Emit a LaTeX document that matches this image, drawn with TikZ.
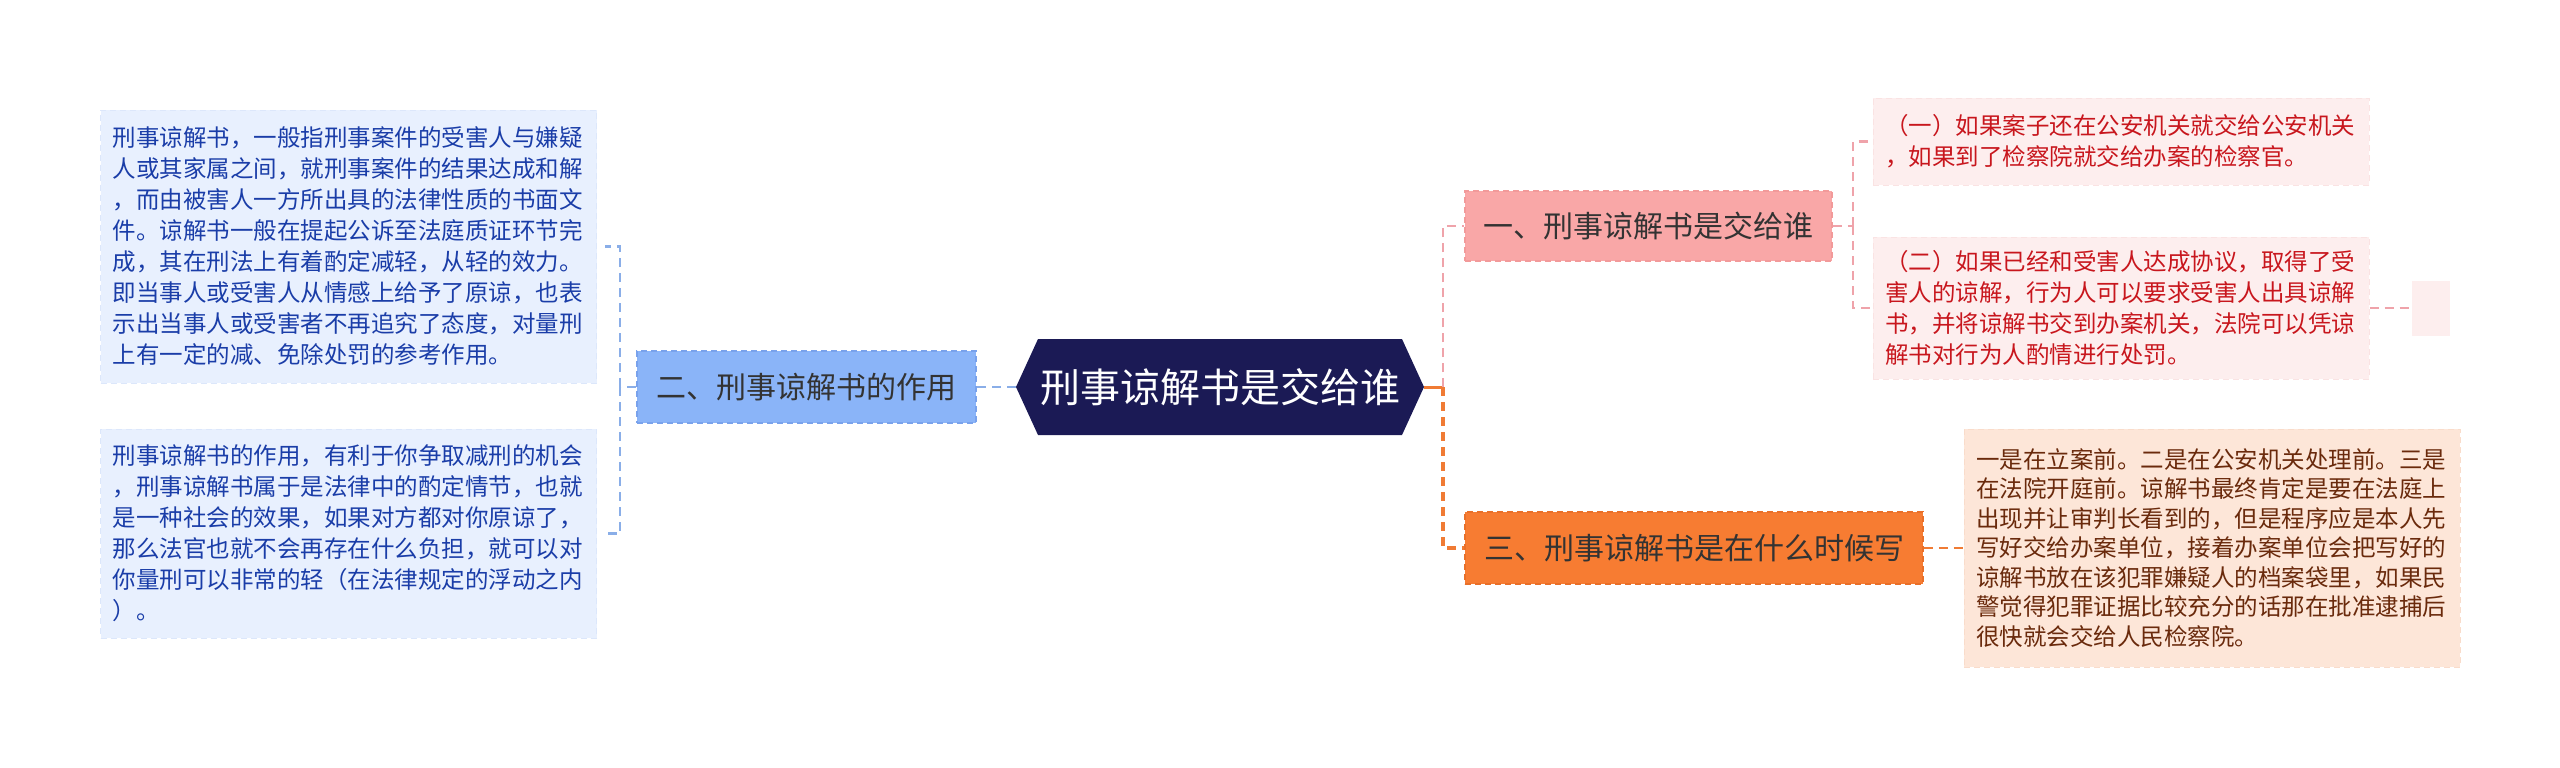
\documentclass[tikz,border=0pt]{standalone}
\usepackage{fontspec}
\setmainfont{Noto Sans CJK SC}

% 颜色
\definecolor{rootcol}{HTML}{1B1A55}
\definecolor{bluebr}{HTML}{8AB4F8}
\definecolor{bluebrd}{HTML}{79A2EC}
\definecolor{blueleaf}{HTML}{E8F0FE}
\definecolor{blueleafd}{HTML}{DCE7FB}
\definecolor{bluetext}{HTML}{1A3DA8}
\definecolor{blueline}{HTML}{8AAEE8}
\definecolor{pinkbr}{HTML}{F9A7A7}
\definecolor{pinkbrd}{HTML}{F29A9A}
\definecolor{pinkleaf}{HTML}{FDEEEE}
\definecolor{pinkleafd}{HTML}{FAE3E3}
\definecolor{redtext}{HTML}{C8161D}
\definecolor{pinkline}{HTML}{EFA3AA}
\definecolor{orangebr}{HTML}{F77C32}
\definecolor{orangebrd}{HTML}{E8702A}
\definecolor{orangeleaf}{HTML}{FDE6D8}
\definecolor{orangeleafd}{HTML}{F9DCCB}
\definecolor{browntext}{HTML}{6A2A0C}
\definecolor{orangeline}{HTML}{F07B34}

\begin{document}
\begin{tikzpicture}[x=1pt, y=-1pt,
    box/.style={rectangle, draw, line width=1.5pt, dash pattern=on 6pt off 4pt},
    branch/.style={box, minimum height=72pt, text=black!80,
        font=\fontsize{30}{36}\selectfont},
    leaf/.style={box, line width=1pt, align=left, inner xsep=12pt, inner ysep=0pt, text width=472pt,
        font=\fontsize{23.5}{31}\selectfont},
    conn/.style={line width=2.5pt, dash pattern=on 9pt off 6pt}]

    % 画布大小
    \path[use as bounding box, fill=white] (0,0) rectangle (2560,768);

    % === 中心主题（六边形） ===
    \coordinate (R) at (1220,387);
    \fill[rootcol] ([xshift=-204pt]R) -- ([shift={(-182pt,48pt)}]R) -- ([shift={(182pt,48pt)}]R)
        -- ([xshift=204pt]R) -- ([shift={(182pt,-48pt)}]R) -- ([shift={(-182pt,-48pt)}]R) -- cycle;
    \node[minimum width=408pt, minimum height=96pt, text=white,
        font=\fontsize{40}{48}\selectfont] (root) at (R) {刑事谅解书是交给谁};

    % === 左侧分支 ===
    \node[branch, fill=bluebr, draw=bluebrd, minimum width=339pt] (b2) at (806.5,387) {二、刑事谅解书的作用};
    \node[leaf, fill=blueleaf, draw=blueleafd, text=bluetext, minimum height=273pt] (l1) at (348.5,246.5)
        {刑事谅解书，一般指刑事案件的受害人与嫌疑\\
         人或其家属之间，就刑事案件的结果达成和解\\
         ，而由被害人一方所出具的法律性质的书面文\\
         件。谅解书一般在提起公诉至法庭质证环节完\\
         成，其在刑法上有着酌定减轻，从轻的效力。\\
         即当事人或受害人从情感上给予了原谅，也表\\
         示出当事人或受害者不再追究了态度，对量刑\\
         上有一定的减、免除处罚的参考作用。};
    \node[leaf, fill=blueleaf, draw=blueleafd, text=bluetext, minimum height=209pt] (l2) at (348.5,533.5)
        {刑事谅解书的作用，有利于你争取减刑的机会\\
         ，刑事谅解书属于是法律中的酌定情节，也就\\
         是一种社会的效果，如果对方都对你原谅了，\\
         那么法官也就不会再存在什么负担，就可以对\\
         你量刑可以非常的轻（在法律规定的浮动之内\\
         ）。};

    % === 右侧分支 ===
    \node[branch, fill=pinkbr, draw=pinkbrd, minimum width=367pt, minimum height=70pt] (b1) at (1648.5,226) {一、刑事谅解书是交给谁};
    \node[branch, fill=orangebr, draw=orangebrd, minimum width=458pt] (b3) at (1694,548) {三、刑事谅解书是在什么时候写};

    \node[leaf, fill=pinkleaf, draw=pinkleafd, text=redtext, minimum height=87pt] (r1) at (2121,141.5)
        {（一）如果案子还在公安机关就交给公安机关\\
         ，如果到了检察院就交给办案的检察官。};
    \node[leaf, fill=pinkleaf, draw=pinkleafd, text=redtext, minimum height=142pt] (r2) at (2121,308)
        {（二）如果已经和受害人达成协议，取得了受\\
         害人的谅解，行为人可以要求受害人出具谅解\\
         书，并将谅解书交到办案机关，法院可以凭谅\\
         解书对行为人酌情进行处罚。};
    \node[rectangle, fill=pinkleaf, minimum width=38pt, minimum height=55pt] (r2x) at (2431,308) {};
    \node[leaf, fill=orangeleaf, draw=orangeleafd, text=browntext, minimum height=238pt,
        font=\fontsize{23.5}{29.5}\selectfont] (r3) at (2212,548)
        {一是在立案前。二是在公安机关处理前。三是\\
         在法院开庭前。谅解书最终肯定是要在法庭上\\
         出现并让审判长看到的，但是程序应是本人先\\
         写好交给办案单位，接着办案单位会把写好的\\
         谅解书放在该犯罪嫌疑人的档案袋里，如果民\\
         警觉得犯罪证据比较充分的话那在批准逮捕后\\
         很快就会交给人民检察院。};

    % === 连线 ===
    \coordinate (lbus) at (620,387);
    \draw[conn, blueline] (root.west) -- (b2.east);
    \draw[conn, blueline] (b2.west) -- (lbus);
    \draw[conn, blueline] (lbus) |- ([xshift=8pt]l1.east);
    \draw[conn, blueline] (lbus) |- ([xshift=8pt]l2.east);

    \coordinate (rbus) at (1443,387);
    \draw[line width=3pt, orangeline] (root.east) -- (rbus);
    \draw[conn, pinkline] (rbus) |- (b1.west);
    \draw[conn, orangeline, line width=3.5pt] (rbus) |- (b3.west);

    \coordinate (pbus) at (1853,226);
    \draw[conn, pinkline] (b1.east) -- (pbus);
    \draw[conn, pinkline] (pbus) |- (r1.west);
    \draw[conn, pinkline] (pbus) |- (r2.west);
    \draw[conn, pinkline] (r2.east) -- (r2x.west);
    \draw[conn, orangeline] (b3.east) -- (r3.west);
\end{tikzpicture}
\end{document}
